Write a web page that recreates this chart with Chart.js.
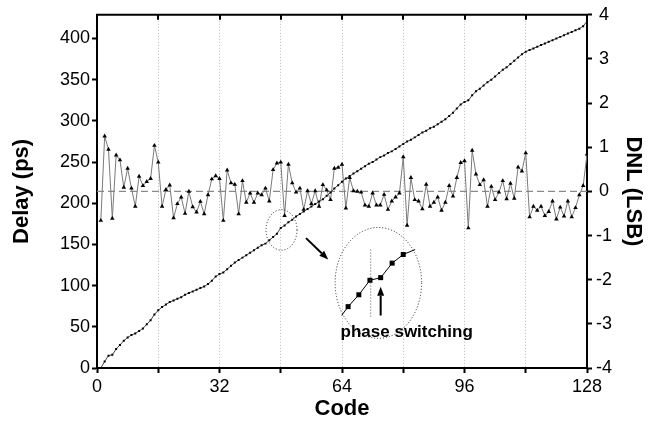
<!DOCTYPE html>
<html>
<head>
<meta charset="utf-8">
<script src="https://cdn.jsdelivr.net/npm/chart.js@4.4.1/dist/chart.umd.min.js"></script>
<style>
  html, body { margin: 0; padding: 0; background: #fff; }
  #wrap { width: 659px; height: 426px; position: relative; }
</style>
</head>
<body>
<div id="wrap"><canvas id="chart"></canvas></div>
<script>
// Code numbers 1..128 (x categories)
const codes = Array.from({ length: 128 }, (_, i) => i + 1);

// Delay (ps) per code
const delayPs = [
  0, 8, 15, 16, 23, 28, 33, 37, 40, 42, 45, 48, 53, 58, 65, 70,
  74, 77, 80, 82, 84, 86, 89, 91, 93, 95, 97, 99, 102, 106, 111, 114,
  116, 120, 124, 128, 131, 134, 137, 140, 143, 146, 149, 151, 155, 159, 163, 170,
  173, 177, 180, 184, 187, 190, 193, 196, 199, 202, 205, 209, 213, 218, 222, 226,
  230, 233, 236, 239, 242, 245, 248, 250, 253, 256, 258, 261, 263, 266, 269, 272,
  275, 277, 280, 283, 286, 288, 291, 293, 296, 299, 302, 306, 310, 315, 320, 323,
  325, 331, 336, 339, 343, 347, 350, 354, 358, 362, 365, 369, 373, 377, 381, 384,
  386, 388, 390, 392, 394, 396, 398, 400, 402, 404, 406, 408, 410, 412, 415, 421
];

// DNL (LSB) per code
const dnlLsb = [
  -0.66, 1.25, 0.95, -0.61, 0.82, 0.71, 0.09, 0.52, 0.07, -0.34, 0.34, 0.13, 0.22, 0.29, 1.04, 0.66,
  -0.34, 0.04, 0.14, -0.60, -0.28, -0.13, -0.50, 0.00, -0.35, -0.47, -0.23, -0.51, -0.08, 0.28, 0.35, 0.29,
  -0.66, 0.48, 0.19, 0.16, -0.51, 0.24, -0.25, -0.04, -0.25, -0.04, -0.08, 0.07, -0.22, 0.49, 0.64, 0.66,
  -0.55, 0.61, 0.19, -0.02, 0.07, -0.41, 0.01, -0.28, 0.01, -0.34, 0.15, 0.03, -0.19, 0.52, 0.54, 0.61,
  -0.38, 0.31, 0.01, 0.00, -0.02, -0.31, -0.34, -0.04, -0.31, -0.31, -0.07, -0.41, -0.22, -0.13, -0.04, 0.78,
  -0.77, 0.31, -0.19, -0.22, -0.40, 0.16, -0.34, -0.25, -0.13, -0.43, -0.25, 0.13, -0.11, 0.31, 0.65, 0.69,
  -0.83, 0.93, 0.39, 0.15, 0.26, -0.34, 0.11, -0.19, -0.02, 0.24, -0.17, 0.18, -0.16, 0.55, 0.46, 0.87,
  -0.58, -0.34, -0.43, -0.34, -0.55, -0.46, -0.22, -0.63, -0.36, -0.56, -0.22, -0.58, -0.37, -0.08, 0.13, 0.84
];

// axis ranges / tick labels
const codeRange = [0, 128];
const codeLabelStep = 32;
const delayRange = [0, 428.8];
const delayLabelStep = 50;
const dnlRange = [-4, 4];
const zeroLine = [0, 0];

const FONT = '"Liberation Sans", Arial, sans-serif';

// top frame line + inward ticks, plus the "phase switching" inset
const framePlugin = {
  id: 'frame',
  afterDatasetsDraw(chart) {
    const { ctx, chartArea: a, scales } = chart;
    const x = scales.x, y = scales.y;
    const P = (c, d) => [x.getPixelForValue(c), y.getPixelForValue(d)];
    ctx.save();

    // top border with inward ticks
    ctx.strokeStyle = '#000';
    ctx.lineWidth = 2;
    ctx.beginPath();
    ctx.moveTo(a.left - 1, a.top);
    ctx.lineTo(a.right + 1, a.top);
    for (let c = 16; c < 128; c += 16) {
      const px = Math.round(x.getPixelForValue(c));
      ctx.moveTo(px, a.top);
      ctx.lineTo(px, a.top + 5);
    }
    ctx.stroke();

    // dotted ellipse helper
    function ellipse(c, d, dc, dd) {
      const [cx, cy] = P(c, d);
      const rx = x.getPixelForValue(c + dc) - cx;
      const ry = cy - y.getPixelForValue(d + dd);
      ctx.save();
      ctx.setLineDash([1, 2]);
      ctx.lineWidth = 1;
      ctx.strokeStyle = '#222';
      ctx.beginPath();
      ctx.ellipse(cx, cy, rx, ry, 0, 0, Math.PI * 2);
      ctx.stroke();
      ctx.restore();
    }
    function arrow(c0, d0, c1, d1) {
      const [x0, y0] = P(c0, d0);
      const [x1, y1] = P(c1, d1);
      const ang = Math.atan2(y1 - y0, x1 - x0);
      const hl = 9, hw = 3.5;
      const bx = x1 - hl * Math.cos(ang), by = y1 - hl * Math.sin(ang);
      ctx.lineWidth = 2;
      ctx.strokeStyle = '#000';
      ctx.fillStyle = '#000';
      ctx.beginPath();
      ctx.moveTo(x0, y0);
      ctx.lineTo(bx, by);
      ctx.stroke();
      ctx.beginPath();
      ctx.moveTo(x1, y1);
      ctx.lineTo(bx + hw * Math.sin(ang), by - hw * Math.cos(ang));
      ctx.lineTo(bx - hw * Math.sin(ang), by + hw * Math.cos(ang));
      ctx.closePath();
      ctx.fill();
    }

    ellipse(48.2, 167.6, 4.05, 24.6);
    arrow(54.6, 157.7, 60.4, 131.8);
    ellipse(73.5, 103.3, 11.3, 67.3);

    // magnified staircase inside the big ellipse
    const inset = [[63.9, 63.7], [65.6, 74.5], [68.4, 88.9], [71.3, 106.5],
                   [74.1, 109.7], [77.1, 127.3], [80.0, 137.8], [83.1, 143.8]];
    ctx.lineWidth = 1;
    ctx.strokeStyle = '#000';
    ctx.beginPath();
    inset.forEach((p, i) => {
      const [px, py] = P(p[0], p[1]);
      if (i === 0) ctx.moveTo(px, py); else ctx.lineTo(px, py);
    });
    ctx.stroke();
    ctx.fillStyle = '#000';
    inset.slice(1, 7).forEach(p => {
      const [px, py] = P(p[0], p[1]);
      ctx.fillRect(px - 2.5, py - 2.5, 5, 5);
    });

    // vertical dotted marker at the switching point
    const [vx, vy0] = P(71.5, 143.8);
    const [, vy1] = P(71.5, 60.9);
    ctx.save();
    ctx.setLineDash([1, 2]);
    ctx.strokeStyle = '#555';
    ctx.beginPath();
    ctx.moveTo(vx, vy0);
    ctx.lineTo(vx, vy1);
    ctx.stroke();
    ctx.restore();

    arrow(74.1, 63.7, 74.1, 98.5);

    const [tx, ty] = P(80.9, 37.6);
    ctx.font = 'bold 17px ' + FONT;
    ctx.textAlign = 'center';
    ctx.textBaseline = 'alphabetic';
    ctx.fillStyle = '#000';
    ctx.fillText('phase switching', tx, ty);

    ctx.restore();
  }
};

const tickFont = { family: FONT, size: 18 };
const titleFont = { family: FONT, size: 22, weight: 'bold' };

new Chart(document.getElementById('chart'), {
  type: 'line',
  data: {
    datasets: [
      {
        label: 'Delay',
        data: codes.map((c, i) => ({ x: c, y: delayPs[i] })),
        yAxisID: 'y',
        borderColor: '#444',
        borderWidth: 1,
        pointStyle: 'rect',
        pointRadius: 1.4,
        pointBackgroundColor: '#000',
        pointBorderColor: '#000',
        pointBorderWidth: 0,
        tension: 0
      },
      {
        label: 'DNL',
        data: codes.map((c, i) => ({ x: c, y: dnlLsb[i] })),
        yAxisID: 'y2',
        borderColor: '#7a7a7a',
        borderWidth: 1,
        pointStyle: 'triangle',
        pointRadius: 2.6,
        pointBackgroundColor: '#000',
        pointBorderColor: '#000',
        pointBorderWidth: 0,
        tension: 0
      },
      {
        label: 'zero',
        data: codeRange.map((c, i) => ({ x: c, y: zeroLine[i] })),
        yAxisID: 'y2',
        borderColor: '#8a8a8a',
        borderWidth: 1.3,
        borderDash: [7, 4],
        pointRadius: 0
      }
    ]
  },
  options: {
    responsive: true,
    maintainAspectRatio: false,
    animation: false,
    devicePixelRatio: 1,
    layout: { padding: { top: 11, left: 0, right: 0, bottom: 0 } },
    plugins: { legend: { display: false }, tooltip: { enabled: false } },
    scales: {
      x: {
        type: 'linear',
        min: codeRange[0],
        max: codeRange[1],
        afterFit: s => { s.height = 58; },
        grid: {
          color: '#b8b8b8',
          lineWidth: 1,
          tickColor: '#000',
          tickWidth: 2,
          tickLength: 5,
          tickBorderDash: []
        },
        border: { color: '#000', width: 2, dash: [1, 2] },
        ticks: {
          stepSize: 16,
          autoSkip: false,
          maxRotation: 0,
          padding: 3,
          color: '#000',
          font: tickFont,
          callback: v => (v % codeLabelStep === 0 ? v : '')
        },
        title: { display: true, text: 'Code', color: '#000', font: titleFont, padding: { top: 0, bottom: 4 } }
      },
      y: {
        position: 'left',
        min: delayRange[0],
        max: delayRange[1],
        afterFit: s => { s.width = 97; },
        grid: { drawOnChartArea: false, tickColor: '#000', tickWidth: 2, tickLength: 5 },
        border: { color: '#000', width: 2 },
        ticks: {
          stepSize: 25,
          includeBounds: false,
          padding: 2,
          color: '#000',
          font: tickFont,
          callback: v => (v % delayLabelStep === 0 ? v : '')
        },
        title: { display: true, text: 'Delay (ps)', color: '#000', font: titleFont, padding: { top: 9, bottom: 0 } }
      },
      y2: {
        position: 'right',
        min: dnlRange[0],
        max: dnlRange[1],
        afterFit: s => { s.width = 72; },
        grid: { drawOnChartArea: false, tickColor: '#000', tickWidth: 2, tickLength: 5 },
        border: { color: '#000', width: 2 },
        ticks: {
          stepSize: 0.5,
          padding: 4,
          crossAlign: 'center',
          color: '#000',
          font: tickFont,
          callback: v => (Number.isInteger(v) ? v : '')
        },
        title: { display: true, text: 'DNL (LSB)', color: '#000', font: titleFont, padding: { top: 13, bottom: 0 } }
      }
    }
  },
  plugins: [framePlugin]
});
</script>
</body>
</html>
